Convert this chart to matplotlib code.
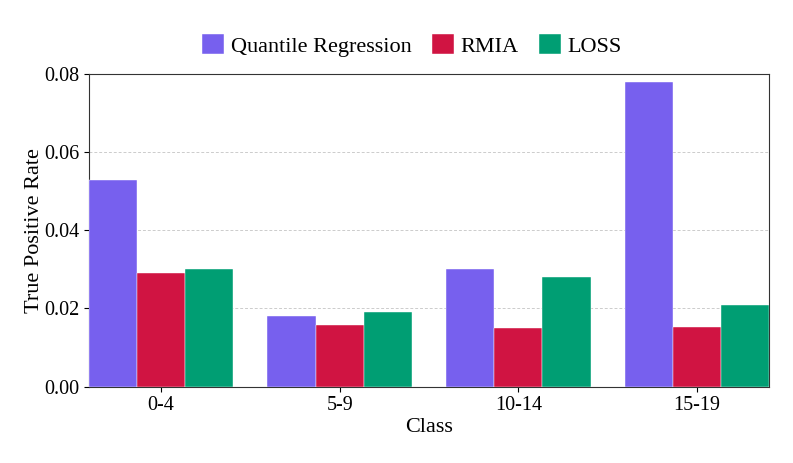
import matplotlib.pyplot as plt
import numpy as np

plt.rcParams['font.family'] = ['Liberation Serif', 'DejaVu Serif']

classes = ['0-4', '5-9', '10-14', '15-19']
quantile_regression = [0.053, 0.018, 0.030, 0.078]
rmia = [0.0292, 0.0157, 0.0150, 0.0152]
loss = [0.030, 0.019, 0.028, 0.021]

series = [('Quantile Regression', quantile_regression, '#7760EE'),
          ('RMIA', rmia, '#D01442'),
          ('LOSS', loss, '#009E73')]

fig, ax = plt.subplots(figsize=(7.93, 4.63), dpi=100)
x = np.arange(len(classes))
width = 0.27
for i, (name, vals, color) in enumerate(series):
    ax.bar(x + (i - 1) * width, vals, width, label=name, color=color,
           edgecolor='white', linewidth=0.3, zorder=3)

ax.set_xlim(-1.5 * width, len(classes) - 1 + 1.5 * width)
ax.set_ylim(0, 0.08)
ax.set_yticks([0, 0.02, 0.04, 0.06, 0.08])
ax.set_yticklabels(['0.00', '0.02', '0.04', '0.06', '0.08'])
ax.set_xticks(x)
ax.set_xticklabels(classes)
ax.tick_params(labelsize=14.5)
ax.set_xlabel('Class', fontsize=16, labelpad=2)
ax.set_ylabel('True Positive Rate', fontsize=16, labelpad=0)
ax.yaxis.grid(True, linestyle=(0, (3, 2)), color='#cccccc', linewidth=0.7, zorder=0)
for s in ax.spines.values():
    s.set_color('#333333')

ax.legend(loc='lower center', bbox_to_anchor=(0.475, 1.005), ncol=3, frameon=False,
          fontsize=16, handlelength=1.0, handleheight=1.0, columnspacing=0.9,
          handletextpad=0.3, borderaxespad=0.3)

fig.subplots_adjust(left=0.112, right=0.97, top=0.84, bottom=0.165)
fig.savefig('out.png', dpi=100)
